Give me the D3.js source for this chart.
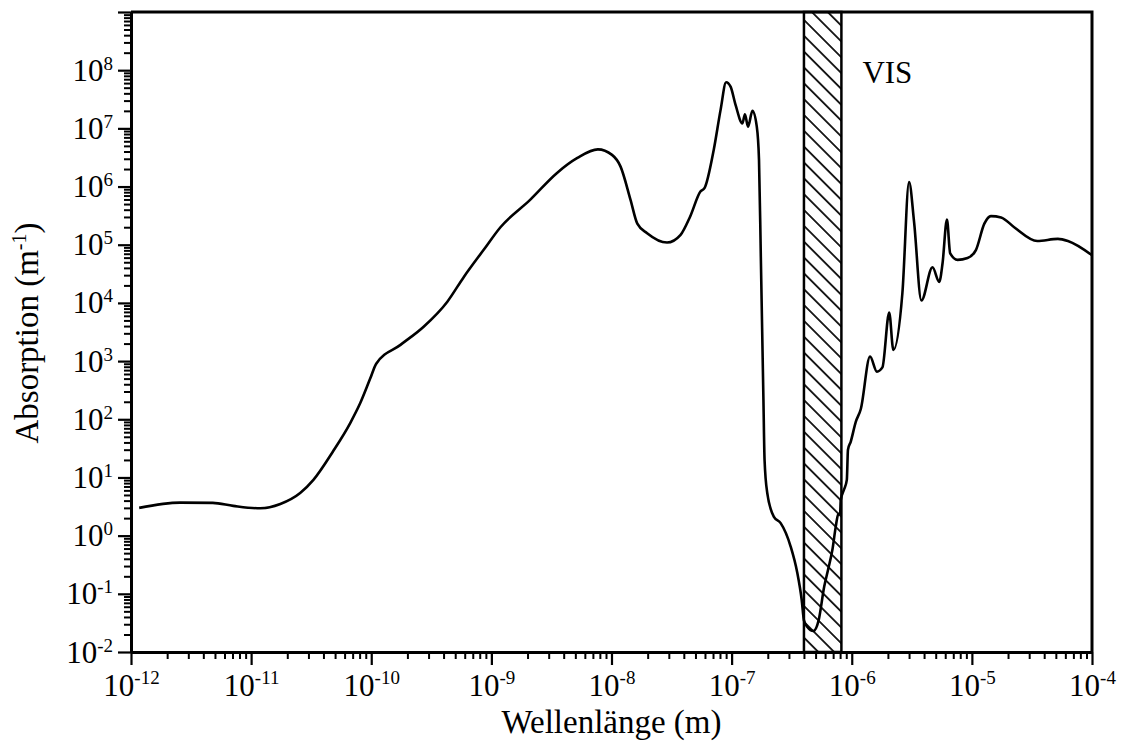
<!DOCTYPE html>
<html>
<head>
<meta charset="utf-8">
<script src="https://cdn.jsdelivr.net/npm/d3@7"></script>
<style>
  body { margin: 0; background: #fff; }
  svg { display: block; }
  svg text { font-family: "Liberation Serif", "Times New Roman", Times, "DejaVu Serif", serif; fill: #000; }
</style>
</head>
<body>
<div id="chart"></div>
<script>
// wavelength (m) and absorption (m^-1)
const wavelength = [
  1.17e-12, 2.56e-12, 4.8e-12, 7.1e-12, 1.19e-11, 1.75e-11, 2.56e-11, 3.3e-11,
  4.8e-11, 6.7e-11, 8.1e-11, 9.8e-11, 1.1e-10, 1.75e-10, 2.73e-10, 4.3e-10,
  5.9e-10, 8.6e-10, 1.19e-9, 2.1e-9, 3.5e-9, 5.2e-9, 7.7e-9, 1.01e-8,
  1.19e-8, 1.44e-8, 1.64e-8, 1.98e-8, 2.9e-8, 3.76e-8, 4.5e-8, 5.5e-8,
  5.96e-8, 7.1e-8, 8.1e-8, 9.0e-8, 9.8e-8, 1.08e-7, 1.23e-7, 1.29e-7,
  1.37e-7, 1.49e-7, 1.62e-7, 1.69e-7, 1.75e-7, 1.84e-7, 1.88e-7, 1.98e-7,
  2.25e-7, 2.56e-7, 3.1e-7, 3.52e-7, 3.83e-7, 4.0e-7, 4.27e-7, 4.8e-7,
  5.3e-7, 5.9e-7, 6.35e-7, 6.9e-7, 7.36e-7, 7.7e-7, 8.0e-7, 8.1e-7,
  8.6e-7, 9.1e-7, 9.3e-7, 9.8e-7, 1.08e-6, 1.19e-6, 1.42e-6, 1.62e-6,
  1.8e-6, 2.05e-6, 2.22e-6, 2.64e-6, 3.0e-6, 3.3e-6, 3.8e-6, 4.7e-6,
  5.35e-6, 5.7e-6, 6.2e-6, 6.6e-6, 7.6e-6, 9.2e-6, 1.08e-5, 1.27e-5,
  1.44e-5, 1.75e-5, 2.25e-5, 3.5e-5, 5.2e-5, 6.3e-5, 1.0e-4
];
const absorption = [
  3.0, 3.7, 3.65, 3.25, 2.95, 3.5, 5.4, 9.1,
  28, 87, 190, 500, 900, 1900, 3900, 1.05e4,
  2.8e4, 8.1e4, 2.0e5, 5.9e5, 1.7e6, 3.1e6, 4.35e6, 3.5e6,
  2.2e6, 5.9e5, 2.3e5, 1.58e5, 1.09e5, 1.48e5, 3.0e5, 8.2e5,
  9.5e5, 4.3e6, 2.1e7, 6.2e7, 5.2e7, 2.5e7, 1.22e7, 1.75e7,
  1.07e7, 2.0e7, 1.07e7, 2.9e6, 6.3e4, 214, 20, 5.4,
  2.1, 1.64, 0.65, 0.23, 0.079, 0.035, 0.027, 0.023,
  0.035, 0.133, 0.26, 0.57, 1.43, 2.3, 2.4, 4.1,
  6.1, 9.1, 30, 41, 90, 150, 1200, 660,
  780, 6800, 1550, 1.48e4, 1.2e6, 2.5e5, 1.1e4, 4.1e4,
  2.3e4, 4.8e4, 2.7e5, 7.1e4, 5.5e4, 5.9e4, 8.1e4, 2.3e5,
  3.1e5, 2.95e5, 2.0e5, 1.16e5, 1.26e5, 1.16e5, 6.6e4
];

// visible range (hatched band)
const visRange = [4.0e-7, 8.2e-7];
const visLabel = "VIS";

// axes
const xDomain = [1e-12, 1e-4];
const yDomain = [1e-2, 1e9];
const xExponents = [-12, -11, -10, -9, -8, -7, -6, -5, -4];
const yExponents = [-2, -1, 0, 1, 2, 3, 4, 5, 6, 7, 8];
const xTitle = "Wellenlänge (m)";
const yTitle = ["Absorption (m", "-1", ")"];

const width = 1124, height = 743;
const margin = { left: 131, right: 1092, top: 12, bottom: 652 };

const svg = d3.select("#chart").append("svg")
    .attr("width", width)
    .attr("height", height);

const x = d3.scaleLog().domain(xDomain).range([margin.left, margin.right]);
const y = d3.scaleLog().domain(yDomain).range([margin.bottom, margin.top]);

// minor ticks 2..9 in every decade
function minorTicks(domain) {
    const out = [];
    const lo = Math.round(Math.log10(domain[0])), hi = Math.round(Math.log10(domain[1]));
    for (let e = lo; e < hi; e++) {
        for (let k = 2; k <= 9; k++) out.push(k * Math.pow(10, e));
    }
    return out;
}
function decades(domain) {
    const out = [];
    const lo = Math.round(Math.log10(domain[0])), hi = Math.round(Math.log10(domain[1]));
    for (let e = lo; e <= hi; e++) out.push(Math.pow(10, e));
    return out;
}

// hatch pattern
const defs = svg.append("defs");
defs.append("pattern")
    .attr("id", "hatch")
    .attr("patternUnits", "userSpaceOnUse")
    .attr("width", 11.2)
    .attr("height", 11.2)
    .attr("patternTransform", "rotate(-45)")
  .append("line")
    .attr("x1", 5.6).attr("y1", -1)
    .attr("x2", 5.6).attr("y2", 12.2)
    .attr("stroke", "#000")
    .attr("stroke-width", 1.7);

// VIS band
svg.append("rect")
    .attr("x", x(visRange[0]))
    .attr("y", y(yDomain[1]))
    .attr("width", x(visRange[1]) - x(visRange[0]))
    .attr("height", y(yDomain[0]) - y(yDomain[1]))
    .attr("fill", "url(#hatch)")
    .attr("stroke", "#000")
    .attr("stroke-width", 2.5);

svg.append("text")
    .attr("x", x(visRange[1]) + 21)
    .attr("y", 83)
    .attr("font-size", 31)
    .text(visLabel);

// absorption curve
const data = wavelength.map((w, i) => ({ w: w, a: absorption[i] }));
const line = d3.line()
    .x(d => x(d.w))
    .y(d => y(d.a))
    .curve(d3.curveMonotoneX);

svg.append("path")
    .datum(data)
    .attr("d", line)
    .attr("fill", "none")
    .attr("stroke", "#000")
    .attr("stroke-width", 2.6)
    .attr("stroke-linejoin", "round");

// frame: top and right
svg.append("path")
    .attr("d", `M${margin.left},${margin.top}H${margin.right}V${margin.bottom}`)
    .attr("fill", "none")
    .attr("stroke", "#000")
    .attr("stroke-width", 3);

// x axis
svg.append("g")
    .attr("transform", `translate(0,${margin.bottom})`)
    .call(d3.axisBottom(x).tickValues(minorTicks(xDomain)).tickSize(7).tickSizeOuter(0).tickFormat(""))
    .call(g => g.select(".domain").remove())
    .call(g => g.selectAll("line").attr("stroke-width", 2));

const xMajor = svg.append("g")
    .attr("transform", `translate(0,${margin.bottom})`)
    .call(d3.axisBottom(x).tickValues(decades(xDomain)).tickSize(13).tickSizeOuter(0).tickFormat(""));
xMajor.attr("font-family", null).attr("font-size", null);
xMajor.select(".domain").attr("stroke-width", 3);
xMajor.selectAll("line").attr("stroke-width", 2.2);
xMajor.selectAll(".tick text").remove();
xMajor.selectAll(".tick").each(function(d, i) {
    const t = d3.select(this).append("text")
        .attr("y", 44)
        .attr("text-anchor", "middle")
        .attr("font-size", 31);
    t.append("tspan").text("10");
    t.append("tspan").attr("dy", -12).attr("font-size", 19).text(String(xExponents[i]));
});

// y axis
svg.append("g")
    .attr("transform", `translate(${margin.left},0)`)
    .call(d3.axisLeft(y).tickValues(minorTicks(yDomain)).tickSize(7).tickSizeOuter(0).tickFormat(""))
    .call(g => g.select(".domain").remove())
    .call(g => g.selectAll("line").attr("stroke-width", 2));

const yMajor = svg.append("g")
    .attr("transform", `translate(${margin.left},0)`)
    .call(d3.axisLeft(y).tickValues(decades(yDomain)).tickSize(13).tickSizeOuter(0).tickFormat(""));
yMajor.attr("font-family", null).attr("font-size", null);
yMajor.select(".domain").attr("stroke-width", 3);
yMajor.selectAll("line").attr("stroke-width", 2.2);
yMajor.selectAll(".tick text").remove();
yMajor.selectAll(".tick")
    .filter(d => yExponents.includes(Math.round(Math.log10(d))))
    .each(function(d) {
        const t = d3.select(this).append("text")
            .attr("x", -18)
            .attr("y", 10)
            .attr("text-anchor", "end")
            .attr("font-size", 31);
        t.append("tspan").text("10");
        t.append("tspan").attr("dy", -11).attr("font-size", 19).text(String(Math.round(Math.log10(d))));
    });

// axis titles
svg.append("text")
    .attr("x", (margin.left + margin.right) / 2)
    .attr("y", 733)
    .attr("text-anchor", "middle")
    .attr("font-size", 33)
    .text(xTitle);

const yt = svg.append("text")
    .attr("transform", `translate(38,${(margin.top + margin.bottom) / 2 + 1}) rotate(-90)`)
    .attr("text-anchor", "middle")
    .attr("font-size", 33);
yt.append("tspan").text(yTitle[0]);
yt.append("tspan").attr("dy", -12).attr("font-size", 20).text(yTitle[1]);
yt.append("tspan").attr("dy", 12).text(yTitle[2]);
</script>
</body>
</html>
